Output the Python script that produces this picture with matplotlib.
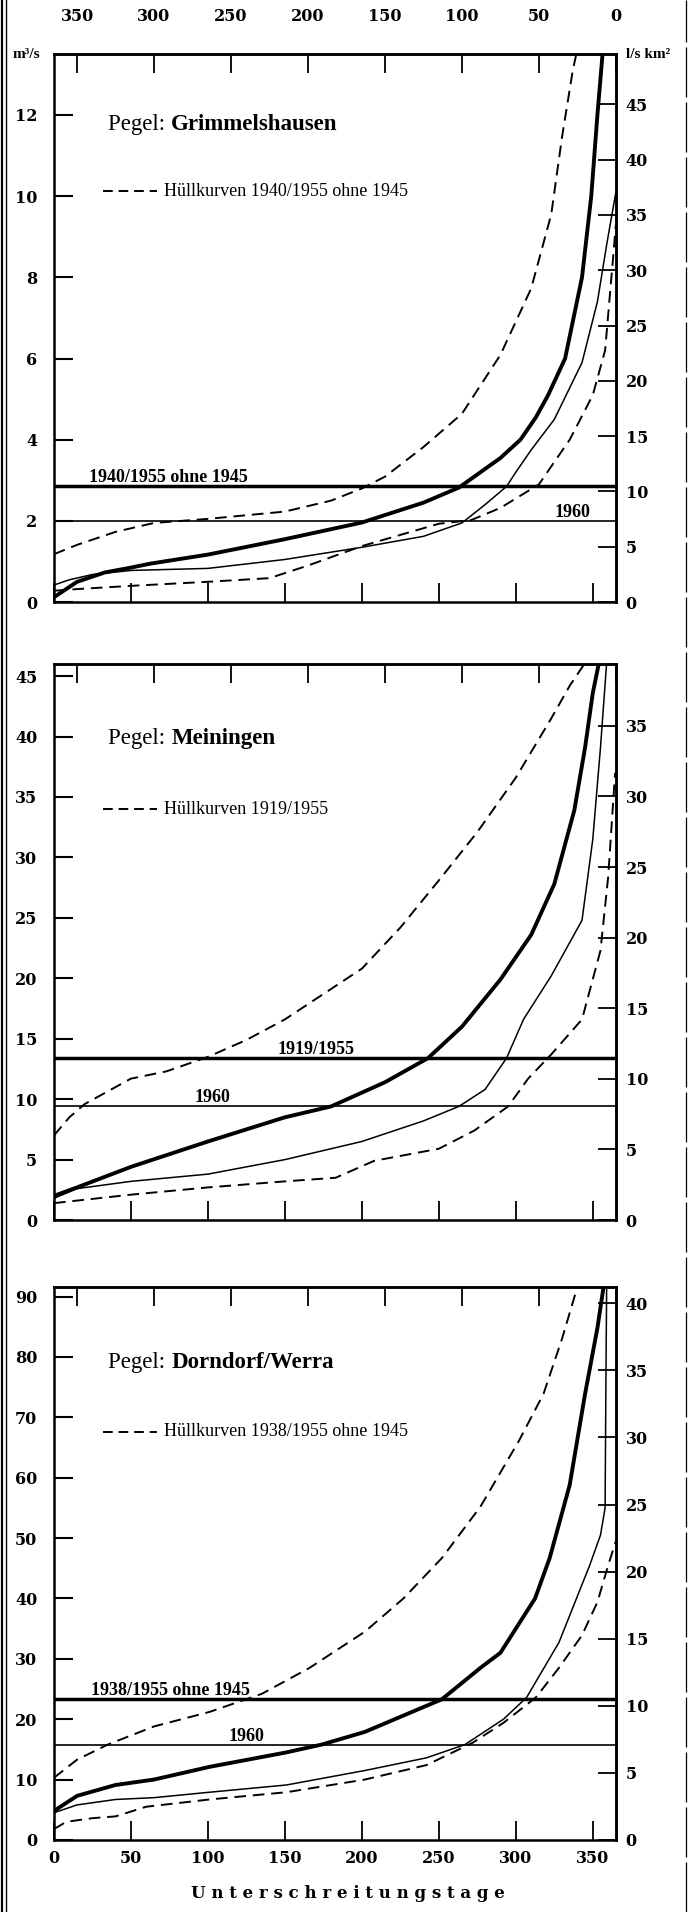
import matplotlib
matplotlib.use("Agg")
import matplotlib.pyplot as plt
from matplotlib.lines import Line2D

# Dauerlinien der Abflüsse, drei Pegel (Tage 0..365)
# --- Grimmelshausen ---
g_mean_days = [0, 15, 33, 50, 63, 100, 150, 200, 240, 263, 290, 303, 313, 321, 332, 343, 349, 353, 357]
g_mean_q = [0.12, 0.5, 0.73, 0.85, 0.95, 1.17, 1.55, 1.96, 2.45, 2.82, 3.55, 4.0, 4.55, 5.1, 6.0, 8.0, 10.0, 12.0, 13.8]
g_1960_days = [0, 10, 25, 50, 100, 150, 200, 240, 265, 280, 294, 300, 310, 325, 343, 353, 359, 365]
g_1960_q = [0.42, 0.55, 0.68, 0.78, 0.83, 1.05, 1.35, 1.62, 1.95, 2.4, 2.85, 3.2, 3.75, 4.5, 5.9, 7.4, 8.8, 10.1]
g_up_days = [0, 15, 40, 65, 100, 150, 180, 200, 215, 240, 265, 290, 310, 323, 330, 337, 341]
g_up_q = [1.18, 1.41, 1.73, 1.95, 2.05, 2.23, 2.5, 2.8, 3.09, 3.82, 4.64, 6.09, 7.73, 9.55, 11.45, 13.1, 13.8]
g_lo_days = [0, 15, 50, 100, 140, 165, 200, 250, 271, 290, 315, 335, 350, 358, 363, 365]
g_lo_q = [0.28, 0.32, 0.4, 0.5, 0.59, 0.9, 1.38, 1.93, 2.02, 2.32, 2.9, 4.0, 5.1, 6.2, 8.4, 9.3]
g_level_period = 2.85
g_level_1960 = 2.0

# --- Meiningen ---
m_mean_days = [0, 15, 50, 100, 150, 180, 215, 243, 265, 290, 310, 325, 338, 345, 350, 354]
m_mean_q = [2.0, 2.7, 4.4, 6.5, 8.5, 9.4, 11.4, 13.4, 16.0, 19.9, 23.6, 27.8, 33.9, 39.1, 43.6, 46.1]
m_1960_days = [0, 15, 50, 100, 150, 200, 240, 263, 280, 294, 305, 323, 343, 350, 355, 359]
m_1960_q = [1.8, 2.6, 3.2, 3.8, 5.0, 6.5, 8.2, 9.4, 10.8, 13.4, 16.6, 20.2, 24.8, 31.5, 39.1, 46.1]
m_up_days = [0, 10, 20, 50, 73, 100, 125, 150, 175, 200, 225, 250, 275, 300, 323, 335, 345]
m_up_q = [7.0, 8.5, 9.6, 11.7, 12.3, 13.5, 14.9, 16.6, 18.7, 20.8, 24.2, 28.1, 32.1, 36.6, 41.5, 44.2, 46.1]
m_lo_days = [0, 50, 100, 150, 183, 208, 250, 273, 295, 308, 323, 343, 355, 360, 364.5]
m_lo_q = [1.4, 2.1, 2.7, 3.2, 3.5, 4.9, 5.9, 7.4, 9.4, 11.7, 13.7, 16.6, 22.3, 28.4, 37.0]
m_level_period = 13.4
m_level_1960 = 9.4

# --- Dorndorf/Werra ---
d_mean_days = [0, 15, 40, 65, 101, 151, 174, 202, 227, 252, 277, 290, 302, 312.5, 322, 335, 345, 353, 357]
d_mean_q = [4.8, 7.3, 9.1, 10.0, 12.1, 14.5, 15.8, 17.9, 20.6, 23.3, 28.5, 31.0, 35.8, 40.0, 46.7, 58.8, 73.9, 84.8, 91.6]
d_1960_days = [0, 15, 40, 65, 101, 151, 202, 242, 267, 292, 307, 328, 348, 355, 358, 358.5, 359]
d_1960_q = [4.5, 5.8, 6.7, 7.0, 7.9, 9.1, 11.5, 13.6, 15.8, 20.0, 23.6, 32.7, 45.5, 50.5, 55, 75, 91.6]
d_up_days = [0, 15, 35, 65, 101, 135, 166, 202, 227, 252, 277, 302, 318, 330, 340]
d_up_q = [10.3, 13.3, 15.8, 18.8, 21.2, 24.2, 28.5, 34.5, 40.0, 46.7, 55.2, 66.1, 73.9, 83.0, 91.6]
d_lo_days = [0, 8, 25, 40, 60, 101, 151, 202, 242, 272, 292, 313, 328, 343, 353, 360, 365]
d_lo_q = [1.8, 3.0, 3.6, 3.9, 5.5, 6.7, 7.9, 10.0, 12.4, 16.1, 19.4, 23.6, 28.5, 33.9, 39.4, 45.5, 49.5]
d_level_period = 23.3
d_level_1960 = 15.8

day_ticks = [0, 50, 100, 150, 200, 250, 300, 350]
top_ticks = [350, 300, 250, 200, 150, 100, 50, 0]

SERIF = "Liberation Serif"
NUM = "DejaVu Serif"

panels = [
    dict(name="Grimmelshausen", ymax=13.5, yt=[0, 2, 4, 6, 8, 10, 12], k=3.67,
         rt=[0, 5, 10, 15, 20, 25, 30, 35, 40, 45], rect=[0.078, 0.6851, 0.812, 0.2866],
         mean=(g_mean_days, g_mean_q), y60=(g_1960_days, g_1960_q),
         up=(g_up_days, g_up_q), lo=(g_lo_days, g_lo_q),
         lev=g_level_period, lev60=g_level_1960,
         levlab="1940/1955 ohne 1945", levx=23, lab60x=337,
         legend="Hüllkurven 1940/1955 ohne 1945", ty=0.852, ly=0.750),
    dict(name="Meiningen", ymax=46.0, yt=[0, 5, 10, 15, 20, 25, 30, 35, 40, 45], k=0.856,
         rt=[0, 5, 10, 15, 20, 25, 30, 35], rect=[0.078, 0.3619, 0.812, 0.2908],
         mean=(m_mean_days, m_mean_q), y60=(m_1960_days, m_1960_q),
         up=(m_up_days, m_up_q), lo=(m_lo_days, m_lo_q),
         lev=m_level_period, lev60=m_level_1960,
         levlab="1919/1955", levx=None, levcx=170, lab60x=103,
         legend="Hüllkurven 1919/1955", ty=0.848, ly=0.739),
    dict(name="Dorndorf/Werra", ymax=91.6, yt=[0, 10, 20, 30, 40, 50, 60, 70, 80, 90], k=0.45,
         rt=[0, 5, 10, 15, 20, 25, 30, 35, 40], rect=[0.078, 0.0377, 0.812, 0.2892],
         mean=(d_mean_days, d_mean_q), y60=(d_1960_days, d_1960_q),
         up=(d_up_days, d_up_q), lo=(d_lo_days, d_lo_q),
         lev=d_level_period, lev60=d_level_1960,
         levlab="1938/1955 ohne 1945", levx=24, lab60x=125,
         legend="Hüllkurven 1938/1955 ohne 1945", ty=0.845, ly=0.738),
]

fig = plt.figure(figsize=(6.92, 19.12), dpi=100)
dash = (0, (6, 3.5))

for i, p in enumerate(panels):
    ax = fig.add_axes(p["rect"])
    ax.set_xlim(0, 365)
    ax.set_ylim(0, p["ymax"])
    for s in ax.spines.values():
        s.set_linewidth(1.8)

    ax.plot(*p["up"], color="k", lw=1.4, ls=dash)
    ax.plot(*p["lo"], color="k", lw=1.4, ls=dash)
    ax.plot(*p["y60"], color="k", lw=1.1)
    ax.plot(*p["mean"], color="k", lw=2.8)
    ax.axhline(p["lev"], color="k", lw=2.5)
    ax.axhline(p["lev60"], color="k", lw=1.2)

    # labels above the reference levels
    if p["levx"] is not None:
        ax.text(p["levx"], p["lev"], p["levlab"], ha="left", va="bottom",
                fontsize=13, family=SERIF, fontweight="bold")
    else:
        ax.text(p["levcx"], p["lev"], p["levlab"], ha="center", va="bottom",
                fontsize=13, family=SERIF, fontweight="bold")
    ax.text(p["lab60x"], p["lev60"], "1960", ha="center", va="bottom",
            fontsize=13, family=SERIF, fontweight="bold")

    # station name and legend key
    t = ax.text(0.097, p["ty"], "Pegel: ", transform=ax.transAxes, ha="left",
                va="bottom", fontsize=16.5, family=SERIF)
    ax.annotate(p["name"], xy=(1, 0), xycoords=t, ha="left", va="bottom",
                fontsize=16.5, family=SERIF, fontweight="bold")
    ax.plot([0.087, 0.183], [p["ly"], p["ly"]], transform=ax.transAxes,
            color="k", lw=1.4, ls=(0, (5, 3)))
    ax.text(0.196, p["ly"], p["legend"], transform=ax.transAxes, ha="left",
            va="center", fontsize=13, family=SERIF)

    # bottom day axis
    ax.set_xticks(day_ticks)
    ax.tick_params(axis="x", direction="in", length=14, width=1.3,
                   labelbottom=(i == 2), pad=7, labelsize=11.5)
    # left discharge axis
    ax.set_yticks(p["yt"])
    ax.tick_params(axis="y", direction="in", length=14, width=1.5, pad=12,
                   labelsize=11.5)
    for lab in ax.get_xticklabels() + ax.get_yticklabels():
        lab.set_family(NUM)
        lab.set_fontweight("bold")

    # top axis: remaining days of the year
    top = ax.secondary_xaxis("top", functions=(lambda d: 365 - d, lambda d: 365 - d))
    top.set_xticks(top_ticks)
    top.tick_params(direction="in", length=14, width=1.3, pad=21,
                    labeltop=(i == 0), labelsize=11.5)
    top.spines["top"].set_linewidth(1.8)
    for lab in top.get_xticklabels():
        lab.set_family(NUM)
        lab.set_fontweight("bold")

    # right axis: specific discharge
    k = p["k"]
    rax = ax.secondary_yaxis("right", functions=(lambda q, k=k: q * k, lambda r, k=k: r / k))
    rax.set_yticks(p["rt"])
    rax.tick_params(direction="in", length=13, width=1.3, pad=7, labelsize=11.5)
    rax.spines["right"].set_linewidth(1.8)
    for lab in rax.get_yticklabels():
        lab.set_family(NUM)
        lab.set_fontweight("bold")

    if i == 0:
        ax.text(-0.049, 1.0, "m³/s", transform=ax.transAxes, ha="center", va="center",
                fontsize=11, family=SERIF, fontweight="bold")
        ax.text(1.058, 1.0, "l/s km²", transform=ax.transAxes, ha="center",
                va="center", fontsize=11, family=SERIF, fontweight="bold")

fig.text(0.503, 0.005, "U n t e r s c h r e i t u n g s t a g e", ha="center",
         va="bottom", fontsize=12, family=NUM, fontweight="bold")

# page frame
for x, w in [(0.003, 1.6), (0.009, 1.0)]:
    fig.add_artist(Line2D([x, x], [0, 1], transform=fig.transFigure, color="k", lw=w))
fig.add_artist(Line2D([0.992, 0.992], [0, 1], transform=fig.transFigure, color="k",
                      lw=0.9, ls=(0, (40, 4))))

fig.savefig("out.png", dpi=100)
